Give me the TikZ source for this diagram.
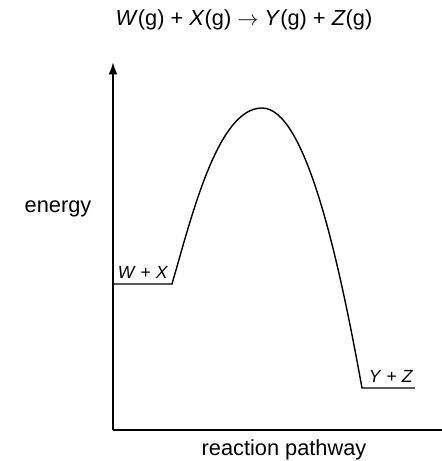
\documentclass[tikz,border=0pt]{standalone}
\usepackage{fontspec}
\setmainfont{Liberation Sans}
\usetikzlibrary{arrows.meta}
\begin{document}
\begin{tikzpicture}[
    x=0.02cm, y=-0.02cm,
    axis/.style={line width=1.1pt},
    path line/.style={line width=0.8pt},
    lbl/.style={inner sep=0pt, font=\fontsize{12.4}{14}\selectfont},
    small lbl/.style={inner sep=0pt, font=\fontsize{10}{12}\selectfont},
]
    \useasboundingbox (0,0) rectangle (442,461);

    % Title
    \node[lbl] (title) at (244,20) {\textit{W}(g) + \textit{X}(g) $\rightarrow$ \textit{Y}(g) + \textit{Z}(g)};

    % Axes
    \coordinate (origin) at (113,430);
    \coordinate (ytop) at (113,62);
    \coordinate (xend) at (442,430);
    \draw[axis, -{Latex[length=7pt,width=5pt]}] (origin) -- (ytop);
    \draw[axis] (origin) -- (xend);
    \node[lbl] (energy) at (58,209) {energy};
    \node[lbl] (pathway) at (284,450) {reaction pathway};

    % Energy profile
    \coordinate (wxstart) at (113,284);
    \coordinate (wxend) at (172,284);
    \coordinate (peak) at (262,108);
    \coordinate (yzstart) at (362,388);
    \coordinate (yzend) at (415,388);
    \draw[path line] (wxstart) -- (wxend)
        .. controls (192,215) and (218,108) .. (peak)
        .. controls (305,108) and (338,255) .. (yzstart) -- (yzend);

    % Levels
    \node[small lbl] (wx) at (143,272) {\textit{W} + \textit{X}};
    \node[small lbl] (yz) at (391,376) {\textit{Y} + \textit{Z}};
\end{tikzpicture}
\end{document}
